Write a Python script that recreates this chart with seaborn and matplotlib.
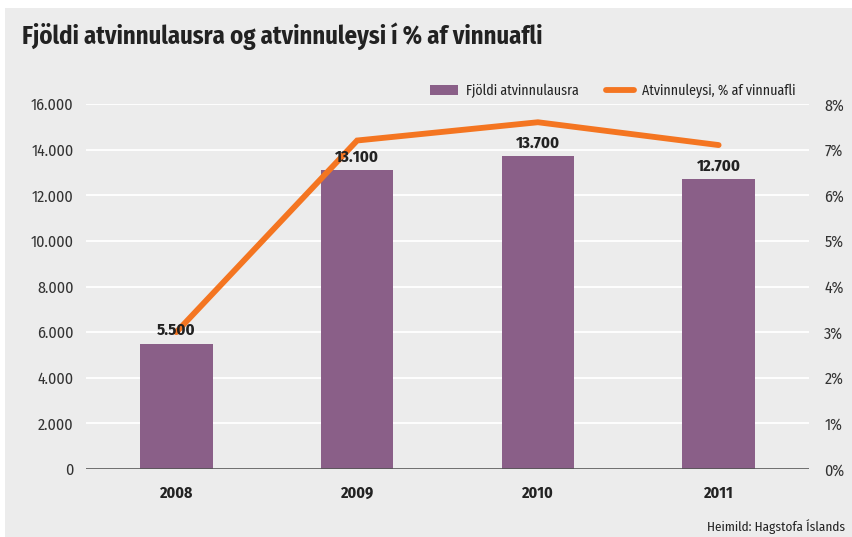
import numpy as np
import pandas as pd
import matplotlib
matplotlib.use("Agg")
import matplotlib.pyplot as plt
import seaborn as sns
from matplotlib.patches import Rectangle, Patch
from matplotlib.lines import Line2D
from matplotlib.ticker import FuncFormatter

years = ["2008", "2009", "2010", "2011"]
unemployed = [5500, 13100, 13700, 12700]
rate_pct = [3.0, 7.2, 7.6, 7.1]
left_ticks = [0, 2000, 4000, 6000, 8000, 10000, 12000, 14000, 16000]
right_ticks = [0, 1, 2, 3, 4, 5, 6, 7, 8]

title = "Fjöldi atvinnulausra og atvinnuleysi í % af vinnuafli"
bar_label = "Fjöldi atvinnulausra"
line_label = "Atvinnuleysi, % af vinnuafli"
source = "Heimild: Hagstofa Íslands"

sns.set_theme(style="white")
FAM = ["Fira Sans Condensed", "DejaVu Sans"]
plt.rcParams["font.family"] = FAM

BG = "#ececec"
BAR = "#8a5f88"
LINE = "#f47521"
TXT = "#222222"

fig = plt.figure(figsize=(8.53, 5.37), dpi=100)
fig.patch.set_facecolor("white")
fig.add_artist(Rectangle((5 / 853, 0), 1 - 5 / 853, 1 - 8 / 537,
                         transform=fig.transFigure, facecolor=BG,
                         edgecolor="none", zorder=-10))

ax = fig.add_axes([86 / 853, 1 - 469 / 537, (809 - 86) / 853, (469 - 104) / 537])
ax.patch.set_visible(False)

df = pd.DataFrame({"year": years, "count": unemployed, "rate": rate_pct})
sns.barplot(data=df, x="year", y="count", color=BAR, width=0.4,
            saturation=1, ax=ax, zorder=2, edgecolor="none", linewidth=0)

ax.set_xlim(-0.5, len(years) - 0.5)
ax.set_ylim(0, 16000)
ax.set_yticks(left_ticks)
ax.yaxis.set_major_formatter(FuncFormatter(lambda v, p: f"{int(v):,}".replace(",", ".")))
ax.grid(axis="y", color="white", linewidth=1.3, zorder=0)
ax.set_axisbelow(True)
ax.axhline(0, color="#555555", linewidth=1.2, zorder=3)
for s in ax.spines.values():
    s.set_visible(False)
ax.set_xlabel("")
ax.set_ylabel("")
ax.tick_params(axis="y", length=0, pad=9, labelsize=11.5, labelcolor="#333333")
ax.tick_params(axis="x", length=0, pad=12, labelsize=11.5, labelcolor=TXT)
for lab in ax.get_xticklabels():
    lab.set_fontweight("bold")

ax2 = ax.twinx()
ax2.set_position(ax.get_position())
ax2.plot(np.arange(len(years)), rate_pct, color=LINE, linewidth=4.2,
         solid_capstyle="round", solid_joinstyle="miter", zorder=5)
ax2.set_ylim(0, 8)
ax2.set_yticks(right_ticks)
ax2.yaxis.set_major_formatter(FuncFormatter(lambda v, p: f"{int(v)}%"))
ax2.tick_params(axis="y", length=0, pad=11, labelsize=11.5, labelcolor="#333333")
for s in ax2.spines.values():
    s.set_visible(False)
ax2.grid(False)
ax2.set_ylabel("")

for i, v in enumerate(unemployed):
    ax2.text(i, v + 230, f"{v:,}".replace(",", "."), ha="center", va="bottom",
             fontsize=12, fontweight="bold", color=TXT, zorder=6,
             transform=ax.transData)

fig.text(22 / 853, 1 - 36 / 537, title, ha="left", va="center",
         fontsize=17.8, fontweight="bold", color=TXT)
fig.text(845 / 853, 1 - 527 / 537, source, ha="right", va="center",
         fontsize=9.5, color=TXT)

handles = [Patch(facecolor=BAR, edgecolor="none"),
           Line2D([0], [0], color=LINE, linewidth=4.2, solid_capstyle="round")]
leg = fig.legend(handles, [bar_label, line_label], loc="center right",
                 bbox_to_anchor=(796 / 853, 1 - 91 / 537), ncol=2,
                 frameon=False, fontsize=10, handlelength=2.0,
                 handleheight=0.7, columnspacing=2.0, handletextpad=0.6,
                 borderaxespad=0, borderpad=0)
for t in leg.get_texts():
    t.set_color(TXT)

fig.savefig("out.png", dpi=100, facecolor=fig.get_facecolor())
